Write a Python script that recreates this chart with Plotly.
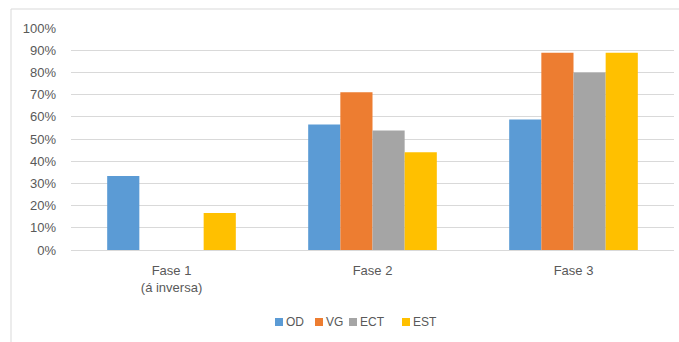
import plotly.graph_objects as go

categories = ["Fase 1<br>(á inversa)", "Fase 2", "Fase 3"]
series_names = ["OD", "VG", "ECT", "EST"]
od = [0.333, 0.565, 0.588]
vg = [0.0, 0.711, 0.889]
ect = [0.0, 0.538, 0.80]
est = [0.167, 0.44, 0.889]
colors = ["#5B9BD5", "#ED7D31", "#A5A5A5", "#FFC000"]
y_ticks = [0, 0.1, 0.2, 0.3, 0.4, 0.5, 0.6, 0.7, 0.8, 0.9, 1.0]

# legend layout (pixels) -> paper coords
L, T, PW, PH = 71, 28, 603, 222
def px(x):
    return (x - L) / PW
def py(y):
    return (T + PH - y) / PH

legend_square_x = [275, 315, 349, 402]
legend_y = 322

fig = go.Figure()
for name, vals, col in zip(series_names, [od, vg, ect, est], colors):
    fig.add_trace(go.Bar(name=name, x=categories, y=vals, marker=dict(color=col, line=dict(width=0))))

font_family = "Liberation Sans, Arial, sans-serif"
shapes = [dict(type="rect", xref="paper", yref="paper", x0=px(11), x1=px(700), y0=py(400), y1=py(9),
               line=dict(color="#D9D9D9", width=1), fillcolor="rgba(0,0,0,0)", layer="below")]
annotations = []
for name, col, sx in zip(series_names, colors, legend_square_x):
    shapes.append(dict(type="rect", xref="paper", yref="paper", x0=px(sx), x1=px(sx + 8),
                       y0=py(legend_y + 4), y1=py(legend_y - 4), line=dict(width=0), fillcolor=col))
    annotations.append(dict(text=name, xref="paper", yref="paper", x=px(sx + 9), y=py(legend_y),
                            xanchor="left", yanchor="middle", showarrow=False,
                            font=dict(size=12, color="#595959")))

fig.update_layout(
    width=679, height=342,
    margin=dict(l=L, r=679 - L - PW, t=T, b=342 - T - PH, autoexpand=False),
    paper_bgcolor="white", plot_bgcolor="white",
    barmode="group", bargap=0.36, bargroupgap=0,
    font=dict(family=font_family, size=13, color="#595959"),
    showlegend=False,
    xaxis=dict(showgrid=False, showline=True, linecolor="#D9D9D9", linewidth=1,
               ticks="", ticklabelstandoff=8, tickfont=dict(size=13, color="#595959")),
    yaxis=dict(range=[0, 1.0], tickvals=y_ticks, tickformat=".0%", showgrid=True,
               gridcolor="#D9D9D9", gridwidth=1, zeroline=False, showline=False,
               ticks="", ticklabelstandoff=14, tickfont=dict(size=13, color="#595959")),
    shapes=shapes,
    annotations=annotations,
)

fig.write_html("out.html", config={"displayModeBar": False},
               post_script="document.body.style.margin='0px';document.body.style.overflow='hidden';")
